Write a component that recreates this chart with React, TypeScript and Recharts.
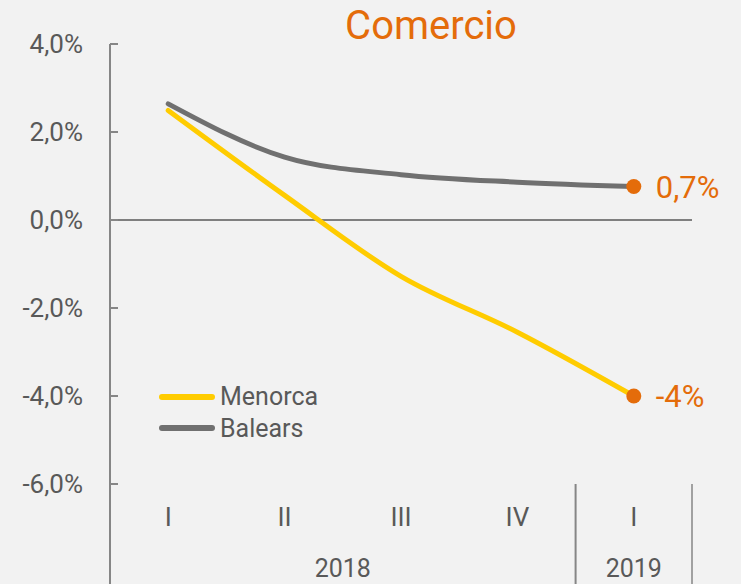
import React from 'react';
import { LineChart, Line, XAxis, YAxis, ReferenceLine, Legend } from 'recharts';

const categories = ['2018-I', '2018-II', '2018-III', '2018-IV', '2019-I'];
const quarterLabels = ['I', 'II', 'III', 'IV', 'I'];
const yearLabels = ['2018', '2018', '2018', '2018', '2019'];
const seriesNames = ['Menorca', 'Balears'];
const menorca = [2.49, 0.56, -1.28, -2.55, -4.0];
const balears = [2.64, 1.43, 1.03, 0.86, 0.76];
const menorcaEndLabel = '-4%';
const balearsEndLabel = '0,7%';
const yTicks = [-6, -4, -2, 0, 2, 4];
const title = 'Comercio';

const data = categories.map((c, i) => ({ id: c, menorca: menorca[i], balears: balears[i] }));

const W = 741;
const H = 584;
const M = { top: 44, right: 49, bottom: 0, left: 0 };
const Y_AXIS_W = 110;
const X_AXIS_H = 100;
const PLOT_W = W - M.left - M.right - Y_AXIS_W;
const BAND = PLOT_W / categories.length;
const FONT = 'Roboto, "Open Sans", sans-serif';
const TEXT = '#595959';
const ORANGE = '#E46C0A';
const YELLOW = '#FFCC00';
const GREY = '#707070';
const AXIS = '#868686';

const fmtY = (v: number) => v.toFixed(1).replace('.', ',') + '%';

const YTick = (props: any) => {
  const { x, y, payload } = props;
  return (
    <g>
      <text x={x - 27} y={y} dy="0.36em" textAnchor="end" fontFamily={FONT} fontSize={26} fill={TEXT}>
        {fmtY(payload.value)}
      </text>
      <line x1={x} x2={x + 8} y1={y} y2={y} stroke={AXIS} strokeWidth={2} />
    </g>
  );
};

const XTick = (props: any) => {
  const { x, y, index } = props;
  const left = x - BAND / 2;
  const bottom = H;
  const isGroupStart = index === 0 || yearLabels[index] !== yearLabels[index - 1];
  let count = 0;
  if (isGroupStart) {
    for (let j = index; j < yearLabels.length && yearLabels[j] === yearLabels[index]; j++) count++;
  }
  return (
    <g>
      <text x={x} y={y + 42} textAnchor="middle" fontFamily={FONT} fontSize={26} fill={TEXT}>
        {quarterLabels[index]}
      </text>
      {isGroupStart && (
        <text x={left + (count * BAND) / 2} y={y + 93} textAnchor="middle" fontFamily={FONT} fontSize={25} fill={TEXT}>
          {yearLabels[index]}
        </text>
      )}
      {isGroupStart && (
        <line x1={left} x2={left} y1={y} y2={bottom} stroke={AXIS} strokeWidth={2} />
      )}
      {index === categories.length - 1 && (
        <line x1={x + BAND / 2} x2={x + BAND / 2} y1={y} y2={bottom} stroke={AXIS} strokeWidth={1.5} />
      )}
    </g>
  );
};

const makeDot = (label: string) => (props: any) => {
  const { cx, cy, index } = props;
  if (index !== categories.length - 1) return <g key={`d${index}`} />;
  return (
    <g key={`d${index}`}>
      <circle cx={cx} cy={cy} r={7.5} fill={ORANGE} />
      <text x={cx + 22} y={cy} dy="0.36em" fontFamily={FONT} fontSize={31} fill={ORANGE}>
        {label}
      </text>
    </g>
  );
};

const LegendContent = (props: any) => {
  const payload = [...(props.payload || [])].sort(
    (a: any, b: any) => seriesNames.indexOf(a.value) - seriesNames.indexOf(b.value)
  );
  return (
    <div style={{ fontFamily: FONT, fontSize: 25, color: TEXT }}>
      {payload.map((p: any) => (
        <div key={p.value} style={{ display: 'flex', alignItems: 'center', height: 31.6 }}>
          <span
            style={{
              display: 'inline-block',
              width: 56,
              height: 6,
              borderRadius: 3,
              background: p.color,
              marginRight: 5,
            }}
          />
          <span style={{ lineHeight: '31.6px' }}>{p.value}</span>
        </div>
      ))}
    </div>
  );
};

export default function App() {
  return (
    <div style={{ position: 'relative', width: W, height: H, background: '#F2F2F2' }}>
      <style>{'body{margin:0;background:#F2F2F2;}'}</style>
      <LineChart width={W} height={H} data={data} margin={M}>
        <XAxis
          dataKey="id"
          axisLine={false}
          tickLine={false}
          tickSize={0}
          tickMargin={0}
          height={X_AXIS_H}
          interval={0}
          padding={{ left: BAND / 2, right: BAND / 2 }}
          tick={<XTick />}
        />
        <YAxis
          domain={[-6, 4]}
          ticks={yTicks}
          width={Y_AXIS_W}
          axisLine={{ stroke: AXIS, strokeWidth: 2 }}
          tickLine={false}
          tickSize={0}
          tickMargin={0}
          interval={0}
          tick={<YTick />}
        />
        <ReferenceLine y={0} stroke="#7F7F7F" strokeWidth={2} />
        <Legend
          layout="horizontal"
          verticalAlign="middle"
          align="center"
          content={<LegendContent />}
          wrapperStyle={{ left: 159, top: 381, width: 'auto', height: 'auto' }}
        />
        <Line
          name="Menorca"
          dataKey="menorca"
          type="monotone"
          stroke={YELLOW}
          strokeWidth={5}
          strokeLinecap="round"
          dot={makeDot(menorcaEndLabel)}
          activeDot={false}
          isAnimationActive={false}
        />
        <Line
          name="Balears"
          dataKey="balears"
          type="monotone"
          stroke={GREY}
          strokeWidth={5}
          strokeLinecap="round"
          dot={makeDot(balearsEndLabel)}
          activeDot={false}
          isAnimationActive={false}
        />
      </LineChart>
      <svg width={W} height={60} style={{ position: 'absolute', left: 0, top: 0, pointerEvents: 'none' }}>
        <text x={431} y={39} textAnchor="middle" fontFamily={FONT} fontSize={40} fill={ORANGE}>
          {title}
        </text>
      </svg>
    </div>
  );
}
